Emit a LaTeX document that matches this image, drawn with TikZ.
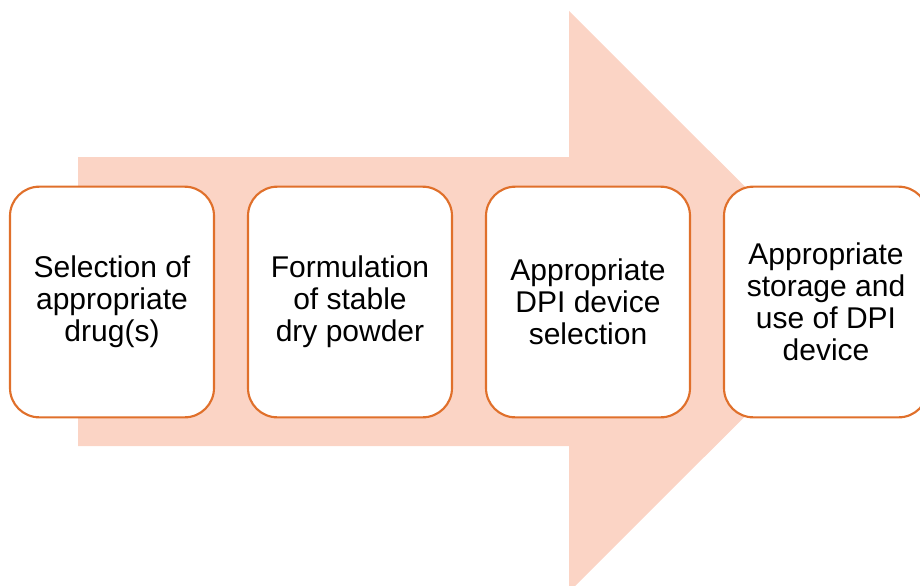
\documentclass[tikz,border=0pt]{standalone}
\usepackage{fontspec}
\setmainfont{Liberation Sans}
\definecolor{arrowfill}{HTML}{FBD4C5}
\definecolor{boxline}{HTML}{E0702B}
\begin{document}
\begin{tikzpicture}[x=0.75pt,y=-0.75pt,
  stepbox/.style={draw=boxline, line width=1.6pt, fill=white, rounded corners=22pt,
    minimum width=153pt, minimum height=173pt, align=center, inner sep=0pt,
    font=\fontsize{22.5pt}{24pt}\selectfont}]
\path[use as bounding box, clip] (0,0) rectangle (920,585);
\fill[arrowfill] (78,157) -- (569,157) -- (569,11) -- (860,301.5) -- (569,592) -- (569,446) -- (78,446) -- cycle;
\node[stepbox] (s1) at (112,302) {Selection of\\appropriate\\drug(s)};
\node[stepbox] (s2) at (350,302) {Formulation\\of stable\\dry powder};
\node[stepbox] (s3) at (588,302) {Appropriate\\DPI device\\selection};
\node[stepbox] (s4) at (826,302) {Appropriate\\storage and\\use of DPI\\device};
\end{tikzpicture}
\end{document}
